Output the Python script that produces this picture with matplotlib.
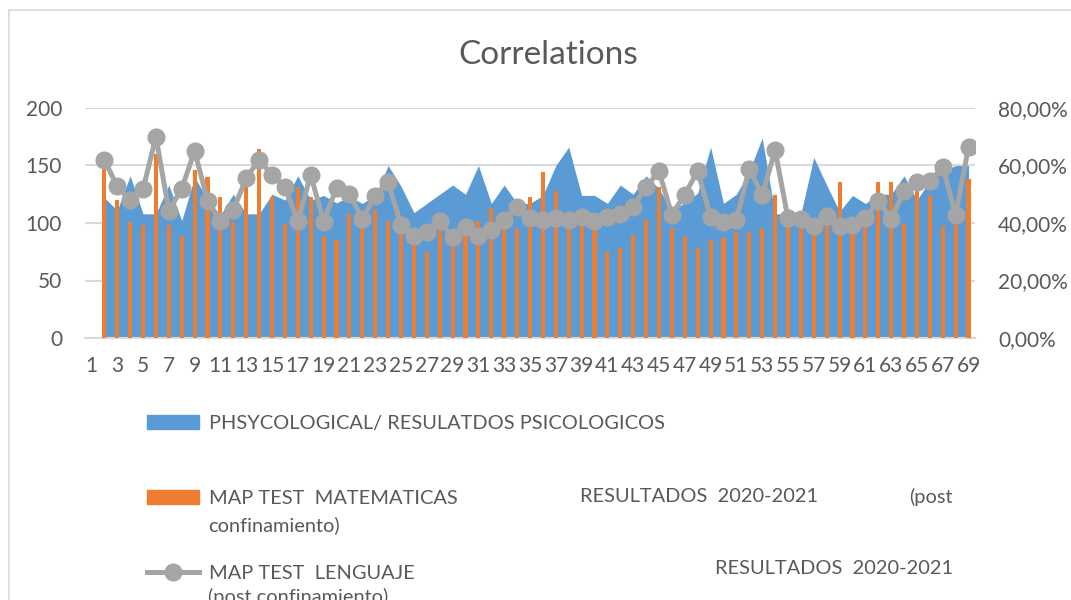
import matplotlib
matplotlib.use("Agg")
import matplotlib.pyplot as plt
from matplotlib.patches import Patch, Rectangle
from matplotlib.lines import Line2D
from matplotlib.ticker import FuncFormatter

plt.rcParams['font.family'] = ['Lato', 'DejaVu Sans']

# categorias 1..69, la primera sin datos
categorias = list(range(2, 70))
etiquetas_x = list(range(1, 70, 2))

psicologicos = [122, 111, 141, 108, 108, 133, 102, 140, 120, 107, 125, 108, 108, 125, 120, 141, 120,
                124, 117.5, 123, 117, 124, 150, 132, 109, 117, 125, 133, 125, 150, 117, 133, 117, 117,
                124, 150, 166, 124, 124, 117, 133, 125, 141, 130, 110, 118, 126, 166, 117, 125, 145,
                174, 108, 108, 108, 157, 133, 110, 124, 117, 125, 125, 141, 120, 137, 145, 150, 150]

matematicas = [150, 120, 101, 98, 160, 98, 89, 146, 140, 122.5, 101, 131.6, 164, 122.5, 99, 131.6, 122.5,
               88.6, 84.8, 108, 99, 111.7, 101.5, 92, 82, 74.6, 94.4, 82, 89.2, 101.5, 113.2, 97, 95.6, 122.5,
               144.7, 127.8, 96.5, 97.7, 95, 74.6, 78, 89.8, 102.9, 131.6, 95.6, 88.6, 78, 84.8, 86.8, 91.8, 92.4,
               95.6, 124.3, 99, 99, 93.6, 99.4, 136, 95, 98, 136, 136, 99.4, 130, 124.3, 97.7, 102.3, 138.6]

lenguaje = [62.0, 52.7, 48.0, 51.8, 70.0, 44.3, 51.9, 65.1, 47.8, 40.6, 44.5, 55.7, 62.0, 56.8, 52.5, 40.6, 56.7,
            40.5, 52.2, 50.1, 41.4, 49.4, 54.2, 39.3, 35.6, 36.7, 40.6, 35.0, 38.5, 35.6, 37.6, 41.2, 45.7, 41.8,
            41.2, 41.7, 41.0, 42.2, 40.6, 42.2, 43.1, 45.7, 52.5, 58.0, 42.8, 49.9, 58.1, 42.0, 40.5, 41.2, 58.9,
            49.6, 65.3, 41.7, 41.3, 38.8, 42.6, 39.0, 39.3, 41.7, 47.8, 41.4, 51.1, 54.2, 54.5, 59.5, 42.9, 66.5]
lenguaje = [v / 100 for v in lenguaje]

AZUL = '#5B9BD5'
NARANJA = '#ED7D31'
GRIS = '#A5A5A5'
TEXTO = '#595959'
REJILLA = '#D9D9D9'

fig = plt.figure(figsize=(10.71, 6), dpi=100)
W, H = 1071, 600

# marco del grafico
fig.patches.append(Rectangle((9 / W, -0.1), 1.2, 1 - 10 / H + 0.1, transform=fig.transFigure,
                             fill=False, edgecolor=REJILLA, linewidth=1.2))

ax = fig.add_axes([85 / W, 1 - 338 / H, 890 / W, 230 / H])
ax.fill_between(categorias, psicologicos, color=AZUL, linewidth=0, zorder=2)
ax.bar(categorias, matematicas, width=0.32, color=NARANJA, zorder=3)
ax.set_xlim(0.5, 69.5)
ax.set_ylim(0, 200)
ax.set_yticks([0, 50, 100, 150, 200])
ax.set_xticks(etiquetas_x)
ax.grid(axis='y', color=REJILLA, linewidth=1.5, zorder=0)
ax.set_axisbelow(True)
for s in ['top', 'right', 'left']:
    ax.spines[s].set_visible(False)
ax.spines['bottom'].set_color(REJILLA)
ax.spines['bottom'].set_linewidth(1.5)
ax.tick_params(axis='y', length=0, pad=16.5, labelsize=15, labelcolor=TEXTO)
ax.tick_params(axis='x', length=0, pad=13, labelsize=15, labelcolor=TEXTO)

ax2 = ax.twinx()
ax2.plot(categorias, lenguaje, color=GRIS, linewidth=3.6, marker='o', markersize=12, zorder=4)
ax2.set_ylim(0, 0.8)
ax2.set_yticks([0, 0.2, 0.4, 0.6, 0.8])
ax2.yaxis.set_major_formatter(FuncFormatter(lambda v, p: f"{v * 100:.2f}%".replace('.', ',')))
for s in ax2.spines.values():
    s.set_visible(False)
ax2.tick_params(axis='y', length=0, pad=16.5, labelsize=15, labelcolor=TEXTO)

fig.text(548 / W, 1 - 55 / H, 'Correlations', ha='center', va='center', fontsize=24, color=TEXTO)

fs = 14.4
handles = [Patch(color=AZUL),
           Patch(color=NARANJA),
           Line2D([], [], color=GRIS, linewidth=3.6, marker='o', markersize=12)]
labels = ['PHSYCOLOGICAL/ RESULATDOS PSICOLOGICOS', 'MAP TEST  MATEMATICAS', 'MAP TEST  LENGUAJE']
fig.legend(handles, labels, loc='upper left', bbox_to_anchor=(147 / W, 1 - 415 / H),
           frameon=False, fontsize=fs, labelcolor=TEXTO, handlelength=2.6, handleheight=0.7,
           handletextpad=0.5, labelspacing=2.9, borderpad=0, borderaxespad=0)

fig.text(580 / W, 1 - 497 / H, 'RESULTADOS  2020-2021', va='center', fontsize=fs, color=TEXTO)
fig.text(953 / W, 1 - 497 / H, '(post', ha='right', va='center', fontsize=fs, color=TEXTO)
fig.text(208 / W, 1 - 525 / H, 'confinamiento)', va='center', fontsize=fs, color=TEXTO)
fig.text(953 / W, 1 - 569 / H, 'RESULTADOS  2020-2021', ha='right', va='center', fontsize=fs, color=TEXTO)
fig.text(208 / W, 1 - 597 / H, '(post confinamiento)', va='center', fontsize=fs, color=TEXTO)

fig.savefig('out.png', dpi=100)
